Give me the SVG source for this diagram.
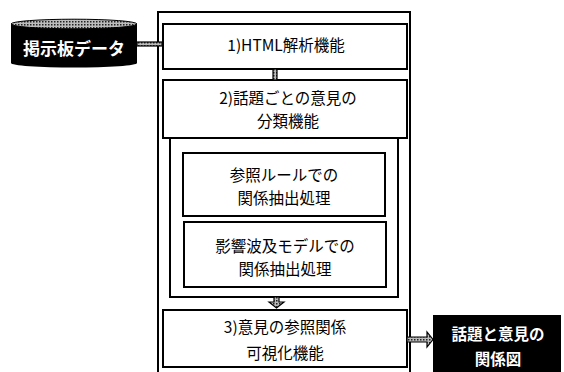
<svg xmlns="http://www.w3.org/2000/svg" width="564" height="372" viewBox="0 0 564 372">
<defs>
<pattern id="dots" width="3" height="3" patternUnits="userSpaceOnUse">
<rect width="3" height="3" fill="#bbb"/>
<rect width="1.5" height="1.5" fill="#222"/>
</pattern>
<style>
.box{fill:#fff;stroke:#000;stroke-width:2}
.t{font-family:"Noto Sans CJK JP","Noto Sans",sans-serif;font-size:15.5px;fill:#000;text-anchor:middle;dominant-baseline:central}
.w{fill:#fff;font-weight:bold}
.conn{fill:url(#dots);stroke:#000;stroke-width:1.2}
</style>
</defs>
<rect width="564" height="372" fill="#fff"/>
<g id="frame">
<rect x="158" y="12" width="252" height="370" fill="none" stroke="#000" stroke-width="2"/>
</g>
<g id="db">
<path d="M11,24 L11,63 A63,4.5 0 0 0 137,63 L137,24 Z" fill="#000"/>
<ellipse cx="74" cy="24" rx="63" ry="4.8" fill="url(#dots)" stroke="#000" stroke-width="1"/>
<text class="t w" x="74" y="47" style="font-size:17px">掲示板データ</text>
</g>
<g id="n1">
<rect class="box" x="163" y="24" width="244" height="45"/>
<text class="t" x="286" y="44">1)HTML解析機能</text>
</g>
<g id="n2">
<path d="M170,138 L170,297 L398,297 L398,138" fill="none" stroke="#000" stroke-width="2"/>
<rect class="box" x="163" y="80" width="244" height="58"/>
<text class="t" x="288" y="97">2)話題ごとの意見の</text>
<text class="t" x="288" y="120">分類機能</text>
</g>
<g id="n2a">
<rect class="box" x="183" y="153" width="202" height="63"/>
<text class="t" x="284" y="174">参照ルールでの</text>
<text class="t" x="284" y="197">関係抽出処理</text>
</g>
<g id="n2b">
<rect class="box" x="184" y="222" width="202" height="65"/>
<text class="t" x="285" y="245">影響波及モデルでの</text>
<text class="t" x="285" y="268">関係抽出処理</text>
</g>
<g id="n3">
<rect class="box" x="163" y="310" width="244" height="57"/>
<text class="t" x="285" y="326">3)意見の参照関係</text>
<text class="t" x="285" y="352">可視化機能</text>
</g>
<g id="out">
<rect x="433" y="315" width="128" height="60" fill="#000"/>
<text class="t w" x="498" y="333">話題と意見の</text>
<text class="t w" x="498" y="358">関係図</text>
</g>
<g id="connectors">
<rect class="conn" x="137" y="42" width="25" height="4"/>
<rect class="conn" x="273" y="69" width="4" height="11"/>
<path class="conn" d="M274,297 L274,302 L269,302 L276.5,308 L284,302 L279,302 L279,297 Z"/>
<path class="conn" d="M407,337 L427,337 L427,332 L433,339.5 L427,347 L427,342 L407,342 Z"/>
</g>
</svg>
